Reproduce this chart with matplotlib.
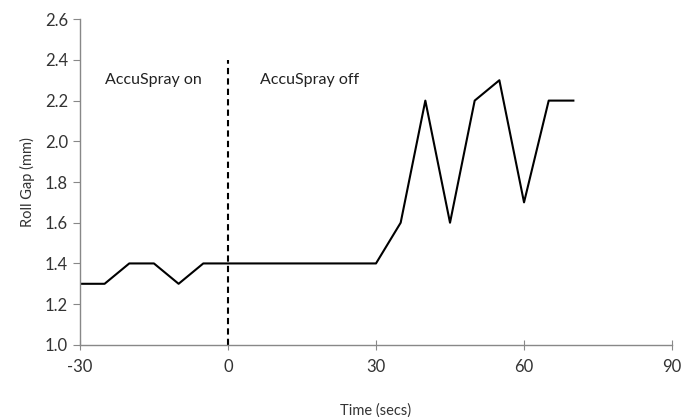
import matplotlib.pyplot as plt

# Roll gap readings, every 5 s
time_s = [-30, -25, -20, -15, -10, -5, 0, 5, 10, 15, 20, 25, 30, 35, 40, 45, 50, 55, 60, 65, 70]
roll_gap = [1.3, 1.3, 1.4, 1.4, 1.3, 1.4, 1.4, 1.4, 1.4, 1.4, 1.4, 1.4, 1.4, 1.6, 2.2, 1.6, 2.2, 2.3, 1.7, 2.2, 2.2]

x_ticks = [-30, 0, 30, 60, 90]
y_ticks = [1.0, 1.2, 1.4, 1.6, 1.8, 2.0, 2.2, 2.4, 2.6]

plt.rcParams['font.family'] = ['Lato', 'DejaVu Sans']
plt.rcParams['axes.unicode_minus'] = False

fig = plt.figure(figsize=(6.83, 4.17), dpi=100)
ax = fig.add_axes([0.117, 0.173, 0.867, 0.781])

ax.plot(time_s, roll_gap, color='black', linewidth=1.5)
ax.plot([0, 0], [1.0, 2.4], color='black', linestyle=(0, (3, 2)), linewidth=1.5)

ax.text(-25, 2.3, 'AccuSpray on', fontsize=11.5, va='center', color='#222222')
ax.text(6.5, 2.3, 'AccuSpray off', fontsize=11.5, va='center', color='#222222')

ax.set_xlim(-30, 90)
ax.set_ylim(1.0, 2.6)
ax.set_xticks(x_ticks)
ax.set_xticklabels([str(v) for v in x_ticks])
ax.set_yticks(y_ticks)
ax.set_yticklabels([f'{v:.1f}' for v in y_ticks])

for s in ['top', 'right']:
    ax.spines[s].set_visible(False)
for s in ['left', 'bottom']:
    ax.spines[s].set_color('#888888')
    ax.spines[s].set_linewidth(1.0)

ax.tick_params(axis='y', direction='out', length=5, color='#888888', labelsize=12, labelcolor='#333333')
ax.tick_params(axis='x', direction='inout', length=7, color='#888888', labelsize=12, labelcolor='#333333', pad=7)

ax.set_xlabel('Time (secs)', fontsize=10.5, color='#333333', labelpad=20)
ax.set_ylabel('Roll Gap (mm)', fontsize=10.5, color='#333333', labelpad=7)

fig.savefig('out.png', dpi=100)
